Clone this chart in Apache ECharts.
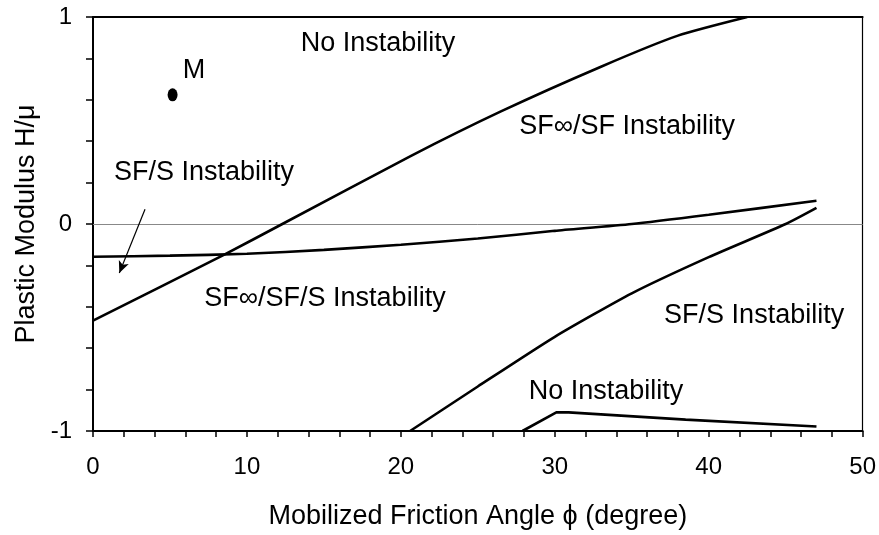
<!DOCTYPE html>
<html>
<head>
<meta charset="utf-8">
<script src="https://cdn.jsdelivr.net/npm/echarts@6/dist/echarts.min.js"></script>
<style>
  html, body { margin: 0; padding: 0; background: #fff; }
  #chart { width: 879px; height: 535px; }
</style>
</head>
<body>
<div id="chart"></div>
<script>
// boundary curves (phi in degrees, H/mu)
const curveAPhi = [0, 8.5, 12.3, 20.6, 26.5, 33, 38, 42.5];
const curveAH   = [-0.467, -0.149, 0, 0.327, 0.544, 0.76, 0.91, 1.0];

const curveBPhi = [0, 5, 10, 15, 20, 25, 30, 35, 40, 47];
const curveBH   = [-0.158, -0.153, -0.144, -0.125, -0.1, -0.07, -0.033, 0.0, 0.045, 0.112];

const curveCPhi = [20.6, 25, 30, 35, 40, 45, 47];
const curveCH   = [-1, -0.785, -0.545, -0.335, -0.16, 0.0, 0.078];

const curveDPhi = [27.9, 30.1, 30.9, 38.5, 47];
const curveDH   = [-1, -0.91, -0.91, -0.945, -0.978];

// point M
const pointM = [5.17, 0.624];

// arrow pointing to the left SF/S region
const arrowFrom = [3.38, 0.071];
const arrowTo   = [1.71, -0.237];

// region labels (text, phi, H/mu)
const regionText = ['No Instability', 'SF\u221E/SF Instability', 'SF/S Instability',
                    'SF\u221E/SF/S Instability', 'SF/S Instability', 'No Instability', 'M'];
const regionPhi  = [18.52, 34.7, 7.21, 15.07, 42.95, 33.33, 6.56];
const regionH    = [0.87, 0.47, 0.249, -0.358, -0.44, -0.81, 0.74];

const font = '"Liberation Sans", Arial, Helvetica, sans-serif';

function pairs(xs, ys) {
    return xs.map((x, i) => [x, ys[i]]);
}

function curve(name, xs, ys, smooth) {
    return {
        name: name,
        type: 'line',
        data: pairs(xs, ys),
        symbol: 'none',
        smooth: smooth,
        lineStyle: { color: '#000', width: 2.6 },
        silent: true,
        z: 5
    };
}

const chart = echarts.init(document.getElementById('chart'), null, { renderer: 'canvas' });

const option = {
    animation: false,
    grid: { left: 93, right: 16, top: 17, bottom: 103, show: false },
    xAxis: [
        {
            type: 'value',
            min: 0, max: 50, interval: 2,
            name: 'Mobilized Friction Angle \u03D5 (degree)',
            nameLocation: 'middle',
            nameGap: 72,
            nameTextStyle: { fontFamily: font, fontSize: 27, color: '#000' },
            axisLine: { onZero: false, lineStyle: { color: '#000', width: 2 } },
            axisTick: { length: 6, lineStyle: { color: '#000', width: 1.5 } },
            axisLabel: {
                margin: 24,
                fontFamily: font, fontSize: 24, color: '#000',
                formatter: v => (Math.abs(v % 10) < 1e-6 ? String(v) : '')
            },
            splitLine: { show: false }
        },
        {
            type: 'value',
            position: 'top',
            min: 0, max: 50,
            axisLine: { show: true, onZero: false, lineStyle: { color: '#000', width: 2 } },
            axisTick: { show: false },
            axisLabel: { show: false },
            splitLine: { show: false }
        }
    ],
    yAxis: [
        {
            type: 'value',
            min: -1, max: 1, interval: 0.2,
            name: 'Plastic Modulus H/\u03BC',
            nameLocation: 'middle',
            nameGap: 50,
            nameTextStyle: { fontFamily: font, fontSize: 27, color: '#000' },
            axisLine: { show: true, onZero: false, lineStyle: { color: '#000', width: 2 } },
            axisTick: { show: true, length: 7, lineStyle: { color: '#000', width: 1.5 } },
            axisLabel: {
                margin: 21,
                fontFamily: font, fontSize: 24, color: '#000',
                formatter: v => {
                    const r = Math.round(v);
                    return Math.abs(v - r) < 1e-6 ? String(r) : '';
                }
            },
            splitLine: { show: false }
        },
        {
            type: 'value',
            position: 'right',
            min: -1, max: 1,
            axisLine: { show: true, onZero: false, lineStyle: { color: '#000', width: 1.2 } },
            axisTick: { show: false },
            axisLabel: { show: false },
            splitLine: { show: false }
        }
    ],
    series: [
        Object.assign(curve('A', curveAPhi, curveAH, 0.2), {
            markLine: {
                silent: true,
                symbol: 'none',
                label: { show: false },
                lineStyle: { color: '#888', width: 1, type: 'solid' },
                data: [{ yAxis: 0 }],
                z: 1
            }
        }),
        curve('B', curveBPhi, curveBH, 0.2),
        curve('C', curveCPhi, curveCH, 0.2),
        curve('D', curveDPhi, curveDH, false),
        {
            name: 'M',
            type: 'scatter',
            data: [pointM],
            symbol: 'circle',
            symbolSize: [10, 13],
            itemStyle: { color: '#000', opacity: 1 },
            silent: true,
            z: 6
        },
        {
            name: 'arrow',
            type: 'line',
            data: [arrowFrom, arrowTo],
            symbol: 'none',
            lineStyle: { opacity: 0 },
            silent: true,
            markLine: {
                silent: true,
                label: { show: false },
                lineStyle: { color: '#000', width: 1.2, type: 'solid' },
                symbol: ['none', 'arrow'],
                symbolSize: [8, 12],
                data: [[{ coord: arrowFrom }, { coord: arrowTo }]]
            }
        },
        {
            name: 'labels',
            type: 'scatter',
            data: regionText.map((t, i) => ({ value: [regionPhi[i], regionH[i]], name: t })),
            symbolSize: 1,
            itemStyle: { color: 'rgba(0,0,0,0)', opacity: 1 },
            silent: true,
            label: {
                show: true,
                position: 'inside',
                formatter: p => p.name,
                fontFamily: font,
                fontSize: 27,
                color: '#000',
                opacity: 1,
                textBorderWidth: 0
            },
            z: 7
        }
    ]
};

chart.setOption(option);
</script>
</body>
</html>
